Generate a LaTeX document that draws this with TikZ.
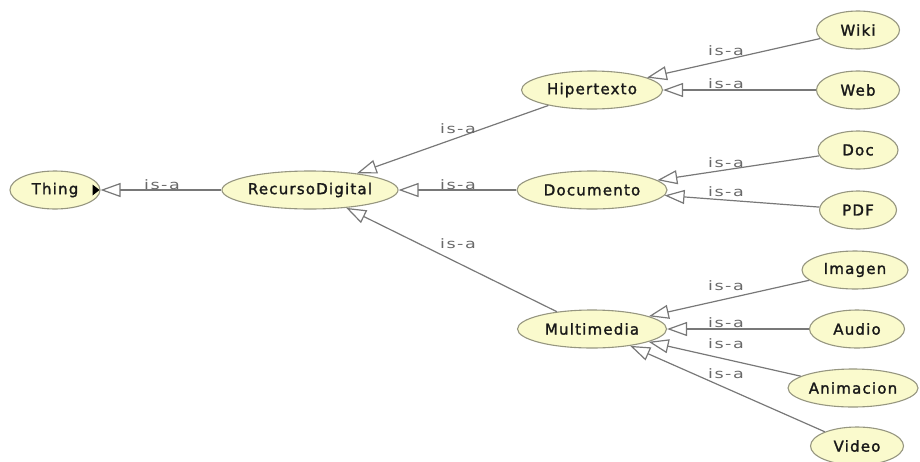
\documentclass[tikz,border=0pt]{standalone}
\usepackage{fontspec}
\usetikzlibrary{shapes.geometric,arrows.meta}
\newfontfamily\classfont[LetterSpace=8,FakeBold=1.6]{DejaVu Sans}
\newfontfamily\relfont[LetterSpace=12,FakeStretch=1.35]{DejaVu Sans}
\definecolor{classfill}{RGB}{250,250,205}
\definecolor{classline}{RGB}{150,150,128}
\definecolor{edgegray}{RGB}{120,120,120}
\definecolor{relgray}{RGB}{105,105,105}
\definecolor{textdark}{RGB}{25,25,25}
\tikzset{
  owlclass/.style={ellipse, draw=classline, fill=classfill, line width=1.1pt,
    inner sep=0pt, minimum height=38pt, text=textdark,
    font=\classfont\fontsize{15}{18}\selectfont},
  isa/.style={draw=edgegray, line width=1.2pt,
    -{Triangle[length=20pt,width=14pt,fill=white]}},
  rel/.style={anchor=base, text=relgray, inner sep=0pt,
    font=\relfont\fontsize{13}{15}\selectfont}
}
\begin{document}
\begin{tikzpicture}[x=1pt,y=-1pt]
\useasboundingbox (0,0) rectangle (920,461);
% classes
\node[owlclass, minimum width=90pt]  (thing) at (55,190)  {Thing\hspace{8pt}};
\node[owlclass, minimum width=176pt] (rd)    at (310,190) {RecursoDigital};
\node[owlclass, minimum width=141pt] (hip)   at (592,90)  {Hipertexto};
\node[owlclass, minimum width=150pt] (docu)  at (592,190) {Documento};
\node[owlclass, minimum width=149pt] (mult)  at (592,329) {Multimedia};
\node[owlclass, minimum width=83pt]  (wiki)  at (858,30)  {Wiki};
\node[owlclass, minimum width=83pt]  (web)   at (858,90)  {Web};
\node[owlclass, minimum width=80pt]  (doc)   at (858,150) {Doc};
\node[owlclass, minimum width=77pt]  (pdf)   at (858,210) {PDF};
\node[owlclass, minimum width=106pt] (img)   at (855,270) {Imagen};
\node[owlclass, minimum width=95pt]  (aud)   at (857,329) {Audio};
\node[owlclass, minimum width=130pt] (anim)  at (853,388) {Animacion};
\node[owlclass, minimum width=93pt]  (vid)   at (857,446) {Video};
% expand marker on Thing
\fill[black] (thing.east) ++(-8,-5.5) -- ++(0,11) -- ++(7,-5.5) -- cycle;
% subclass edges
\draw[isa] (rd)   -- (thing);
\draw[isa] (hip)  -- (rd);
\draw[isa] (docu) -- (rd);
\draw[isa] (mult) -- (rd);
\draw[isa] (wiki) -- (hip);
\draw[isa] (web)  -- (hip);
\draw[isa] (doc)  -- (docu);
\draw[isa] (pdf)  -- (docu);
\draw[isa] (img)  -- (mult);
\draw[isa] (aud)  -- (mult);
\draw[isa] (anim) -- (mult);
\draw[isa] (vid)  -- (mult);
% edge labels
\node[rel] (l1)  at (162,189) {is-a};
\node[rel] (l2)  at (458,133) {is-a};
\node[rel] (l3)  at (458,189) {is-a};
\node[rel] (l4)  at (458,248) {is-a};
\node[rel] (l5)  at (726,55)  {is-a};
\node[rel] (l6)  at (726,88)  {is-a};
\node[rel] (l7)  at (726,167) {is-a};
\node[rel] (l8)  at (726,196) {is-a};
\node[rel] (l9)  at (726,290) {is-a};
\node[rel] (l10) at (726,327) {is-a};
\node[rel] (l11) at (726,348) {is-a};
\node[rel] (l12) at (726,378) {is-a};
\end{tikzpicture}
\end{document}
